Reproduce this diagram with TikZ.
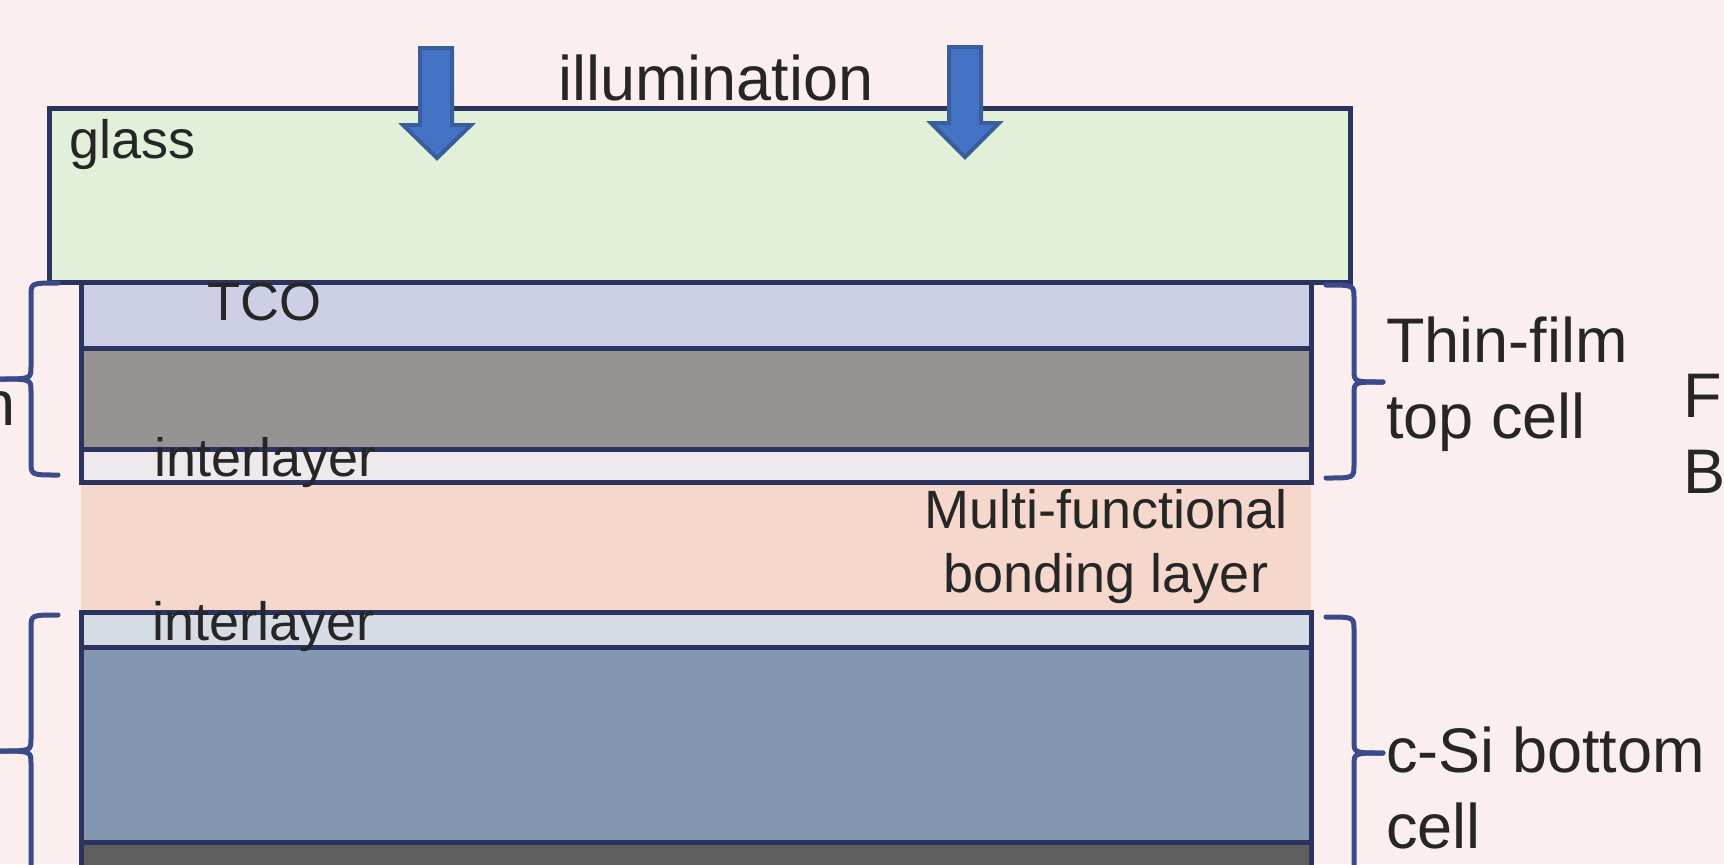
\documentclass[tikz,border=0pt]{standalone}
\usepackage{fontspec}
\setmainfont{Liberation Sans}
\definecolor{bg}{HTML}{FBEEEE}
\definecolor{outl}{HTML}{2B3461}
\definecolor{glassc}{HTML}{E2F0D9}
\definecolor{tcoc}{HTML}{CDD0E4}
\definecolor{absc}{HTML}{989393}
\definecolor{intc}{HTML}{EEE9EC}
\definecolor{bondc}{HTML}{F5D8CB}
\definecolor{intbc}{HTML}{D6DCE4}
\definecolor{csic}{HTML}{8497B0}
\definecolor{backc}{HTML}{5E5E5E}
\definecolor{bracec}{HTML}{3B4A89}
\definecolor{arrowc}{HTML}{4472C4}
\definecolor{arrowe}{HTML}{3A5D9C}
\definecolor{txt}{HTML}{262626}
\begin{document}
\begin{tikzpicture}[x=0.5pt,y=-0.5pt,
  layerbox/.style={draw=outl,line width=2.5pt},
  bracket/.style={draw=bracec,line width=2.5pt,line cap=round,line join=round},
  blockarrow/.style={fill=arrowc,draw=arrowe,line width=2pt,line join=miter},
  bigtext/.style={text=txt,inner sep=0pt,font=\fontsize{31.5}{38}\selectfont},
  smalltext/.style={text=txt,inner sep=0pt,font=\fontsize{27}{32}\selectfont}]
\useasboundingbox (0,0) rectangle (1724,864);
\clip (0,0) rectangle (1724,864);
\fill[bg] (0,0) rectangle (1724,864);
% layers
\fill[bondc] (81,482) rectangle (1311,612);
\path[layerbox,fill=tcoc] (81,282) rectangle (1311,348);
\path[layerbox,fill=absc] (81,348) rectangle (1311,449);
\path[layerbox,fill=intc] (81,449) rectangle (1311,482);
\path[layerbox,fill=intbc] (81,612) rectangle (1311,647);
\path[layerbox,fill=csic] (81,647) rectangle (1311,842);
\path[layerbox,fill=backc] (81,842) rectangle (1311,900);
\path[layerbox,fill=glassc] (49,108) rectangle (1350,282);
% illumination arrows
\path[blockarrow] (420,48) -- (452,48) -- (452,125) -- (471,125) -- (437,158) -- (403,125) -- (420,125) -- cycle;
\path[blockarrow] (949,47) -- (981,47) -- (981,123) -- (999,123) -- (965,157) -- (931,123) -- (949,123) -- cycle;
% texts
\node[bigtext,anchor=base west] (illum) at (558,100) {illumination};
\node[smalltext,anchor=base west] (glass) at (69,158) {glass};
\node[smalltext,anchor=base west] (tco) at (207,320) {TCO};
\node[smalltext,anchor=base west] (intA) at (154,476) {interlayer};
\node[smalltext,anchor=base west] (intB) at (152,640) {interlayer};
\node[smalltext,anchor=base,align=center] (bond) at (1106,592) {Multi-functional\\bonding layer};
\node[bigtext,anchor=base west,align=left] (top) at (1386,438) {Thin-film\\top cell};
\node[bigtext,anchor=base west,align=left] (bot) at (1386,848) {c-Si bottom\\cell};
\node[bigtext,anchor=base west,align=left] (fb) at (1683,493) {F\\B};
\node[bigtext,anchor=base east] (leftn) at (16,425) {n};
% braces right
\draw[bracket] (1326,285) .. controls (1354,285) .. (1354,298) -- (1354,370) .. controls (1354,382) .. (1383,382);
\draw[bracket] (1383,382) .. controls (1354,382) .. (1354,394) -- (1354,465) .. controls (1354,478) .. (1326,478);
\draw[bracket] (1326,617) .. controls (1354,617) .. (1354,630) -- (1354,741) .. controls (1354,753) .. (1383,753);
\draw[bracket] (1383,753) .. controls (1354,753) .. (1354,765) -- (1354,876) .. controls (1354,889) .. (1326,889);
% braces left
\draw[bracket] (58,283) .. controls (31,283) .. (31,296) -- (31,367) .. controls (31,379) .. (-2,379);
\draw[bracket] (-2,379) .. controls (31,379) .. (31,391) -- (31,462) .. controls (31,475) .. (58,475);
\draw[bracket] (58,615) .. controls (31,615) .. (31,628) -- (31,739) .. controls (31,751) .. (-2,751);
\draw[bracket] (-2,751) .. controls (31,751) .. (31,763) -- (31,874) .. controls (31,887) .. (58,887);
\end{tikzpicture}
\end{document}
